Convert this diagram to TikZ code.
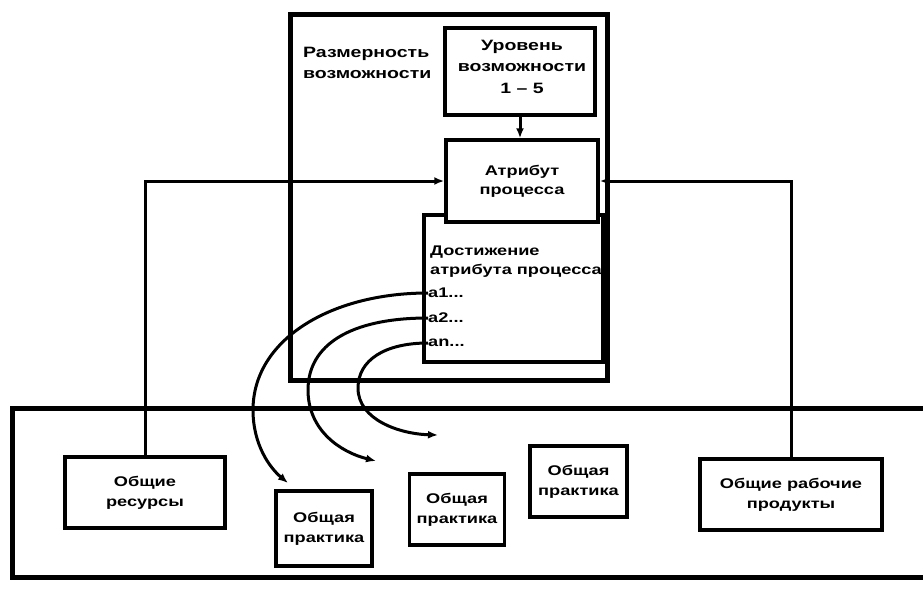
\documentclass[tikz,border=0pt]{standalone}
\usepackage{fontspec}
\setmainfont{Liberation Sans}[FakeStretch=1.3]
\usetikzlibrary{arrows.meta}
\tikzset{
  box/.style={draw, line width=3.5pt, fill=white, align=center, inner sep=2pt, font=\bfseries\fontsize{14}{20}\selectfont},
  big/.style={draw, line width=5pt},
  conn/.style={line width=3pt},
  tip/.style={-{Latex[length=10pt,width=8pt]}},
  lbl/.style={font=\bfseries\fontsize{14}{19}\selectfont, inner sep=0pt, align=left}
}
\begin{document}
\begin{tikzpicture}[x=1pt,y=-1pt]
\useasboundingbox (0,0) rectangle (923,605);
% capability dimension box
\node[big, minimum width=317pt, minimum height=366pt, inner sep=0pt] (dim) at (448.5,197) {};
\node[lbl, anchor=base west, font=\bfseries\fontsize{15}{21}\selectfont] (dimlbl) at (303,78) {Размерность\\возможности};
\node[box, minimum width=150pt, minimum height=87pt] (level) at (520,71.5) {};
\node[lbl, align=center, anchor=base, font=\bfseries\fontsize{15}{21.5}\selectfont] (levellbl) at (522,93) {Уровень\\возможности\\1 -- 5};
% achievement box
\node[box, minimum width=179pt, minimum height=147pt] (achv) at (513.5,288.5) {};
\node[lbl, anchor=base west] (achvlbl) at (430,274) {Достижение\\атрибута процесса};
\node[lbl, anchor=west] (a1) at (428,293) {а1...};
\node[lbl, anchor=west] (a2) at (428,318) {а2...};
\node[lbl, anchor=west] (an) at (428,343) {аn...};
% attribute box
\node[box, minimum width=152pt, minimum height=82pt, font=\bfseries\fontsize{14}{19}\selectfont] (attr) at (522,181) {Атрибут\\процесса};
% bottom region
\draw[line width=5pt] (930,408) -- (12,408) -- (12,577) -- (930,577);
\node[box, minimum width=160pt, minimum height=71pt] (res) at (145,492.5) {Общие\\ресурсы};
\node[box, minimum width=96pt, minimum height=75pt] (p1) at (324,528.5) {Общая\\практика};
\node[box, minimum width=95pt, minimum height=71pt] (p2) at (457,509.5) {Общая\\практика};
\node[box, minimum width=97pt, minimum height=71pt] (p3) at (578.5,481.5) {Общая\\практика};
\node[box, minimum width=182pt, minimum height=71pt] (prod) at (791,494.5) {Общие рабочие\\продукты};
% connectors
\draw[conn, tip] (level.south) -- (level.south |- attr.north);
\draw[conn, tip] (res.north) |- (attr.west);
\draw[conn, tip] (prod.north) |- (attr.east);
\coordinate (e1) at (288,483);
\coordinate (e2) at (376,461);
\coordinate (e3) at (438,435);
\draw[conn, tip] (a1.west) .. controls (330,293) and (253,340) .. (253,410) .. controls (253,445) and (270,468) .. (e1);
\draw[conn, tip] (a2.west) .. controls (350,318) and (308,345) .. (308,390) .. controls (308,430) and (340,452) .. (e2);
\draw[conn, tip] (an.west) .. controls (385,343) and (358,360) .. (358,388) .. controls (358,420) and (400,434) .. (e3);
\end{tikzpicture}
\end{document}
